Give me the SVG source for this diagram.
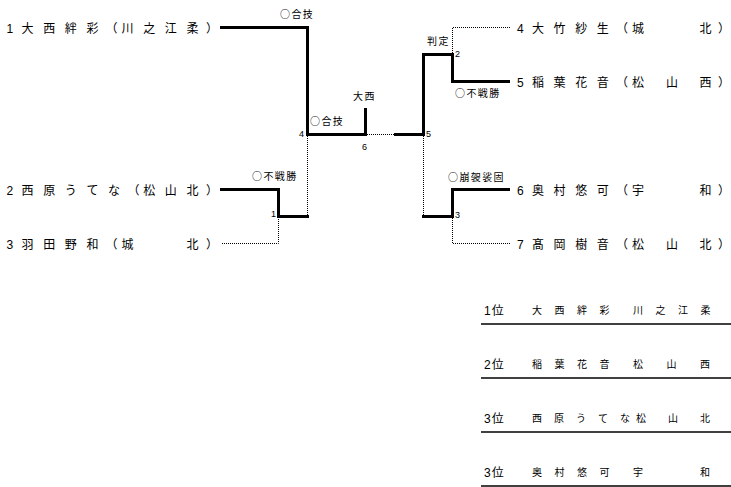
<svg xmlns="http://www.w3.org/2000/svg" width="731" height="487" viewBox="0 0 731 487">
<style>
.nm{font-family:"Liberation Sans","Noto Sans CJK JP",sans-serif;font-size:12px;fill:#000}
.lb{font-family:"Noto Sans CJK JP",sans-serif;font-size:10px;letter-spacing:1.4px;fill:#000}
.no{font-family:"Liberation Sans",sans-serif;font-size:9px;fill:#000}
.rk{font-family:"Liberation Sans","Noto Sans CJK JP",sans-serif;font-size:12px;letter-spacing:1px;fill:#000}
.rn{font-family:"Noto Sans CJK JP",sans-serif;font-size:10px;fill:#000}
.th{stroke:#000;stroke-width:3;fill:none}
.dt{stroke:#000;stroke-width:1;stroke-dasharray:1 1;fill:none}
.ln{stroke:#000;stroke-width:1.5}
</style>
<rect width="731" height="487" fill="#fff"/>
<g id="connectors">
<path class="th" d="M220 27.5H307.5V134.5H365.5V108"/>
<path class="th" d="M220 189.5H278.5V216.5H309"/>
<path class="th" d="M394 134.5H423.5V54.5H452.5V81.5H510"/>
<path class="th" d="M422 216.5H452.5V189.5H510"/>
<path class="dt" d="M307.5 136V215"/>
<path class="dt" d="M222 243.5H278.5V218"/>
<path class="dt" d="M367 134.5H394"/>
<path class="dt" d="M452.5 53V27.5H510"/>
<path class="dt" d="M423.5 136V215"/>
<path class="dt" d="M452.5 218V243.5H510"/>
</g>
<g id="p1"><text class="nm" x="6.5 21.6 43.2 64.8 86.4 105.5 121.6 143.2 164.8 186.4 206" y="32.5">1大西絆彩（川之江柔）</text></g>
<g id="p2"><text class="nm" x="6.5 21.6 43.2 64.8 86.4 108 127.5 143.2 164.8 186.4 206" y="194.5">2西原うてな（松山北）</text></g>
<g id="p3"><text class="nm" x="6.5 21.6 43.2 64.8 86.4 105.5 121.6 186.4 206" y="248.5">3羽田野和（城北）</text></g>
<g id="p4"><text class="nm" x="517 532 553.6 575.2 596.8 616 632 699.5 718" y="32.5">4大竹紗生（城北）</text></g>
<g id="p5"><text class="nm" x="517 532 553.6 575.2 596.8 616 632 666 699.5 718" y="86.5">5稲葉花音（松山西）</text></g>
<g id="p6"><text class="nm" x="517 532 553.6 575.2 596.8 616 632 699.5 718" y="194.5">6奥村悠可（宇和）</text></g>
<g id="p7"><text class="nm" x="517 532 553.6 575.2 596.8 616 632 666 699.5 718" y="248.5">7髙岡樹音（松山北）</text></g>
<g id="m1"><text class="lb" x="252" y="180">○不戦勝</text><text class="no" x="271" y="217">1</text></g>
<g id="m2"><text class="lb" x="427" y="44.5">判定</text><text class="no" x="455" y="57">2</text></g>
<g id="m2w"><text class="lb" x="455" y="96.5">○不戦勝</text></g>
<g id="m3"><text class="lb" x="448" y="180.5">○崩袈裟固</text><text class="no" x="455" y="218">3</text></g>
<g id="m4"><text class="lb" x="280" y="17.5">○合技</text><text class="lb" x="310" y="125">○合技</text><text class="no" x="299" y="137">4</text></g>
<g id="m5"><text class="no" x="426" y="137">5</text></g>
<g id="m6"><text class="lb" x="353" y="99.5">大西</text><text class="no" x="362" y="150">6</text></g>
<g id="ranking">
<g id="r1"><text class="rk" x="484" y="315">1位</text><text class="rn" x="532 554.5 577 599.5" y="314">大西絆彩</text><text class="rn" x="633 655.5 678 700.5" y="314">川之江柔</text><line class="ln" x1="481" y1="324" x2="731" y2="324"/></g>
<g id="r2"><text class="rk" x="484" y="369">2位</text><text class="rn" x="532 554.5 577 599.5" y="368">稲葉花音</text><text class="rn" x="633 666.5 700" y="368">松山西</text><line class="ln" x1="481" y1="378" x2="731" y2="378"/></g>
<g id="r3"><text class="rk" x="484" y="423">3位</text><text class="rn" x="532 554 576 598 620" y="422">西原うてな</text><text class="rn" x="636 668 700" y="422">松山北</text><line class="ln" x1="481" y1="432" x2="731" y2="432"/></g>
<g id="r4"><text class="rk" x="484" y="477">3位</text><text class="rn" x="532 554.5 577 599.5" y="476">奥村悠可</text><text class="rn" x="633 700" y="476">宇和</text><line class="ln" x1="481" y1="486" x2="731" y2="486"/></g>
</g>
</svg>
